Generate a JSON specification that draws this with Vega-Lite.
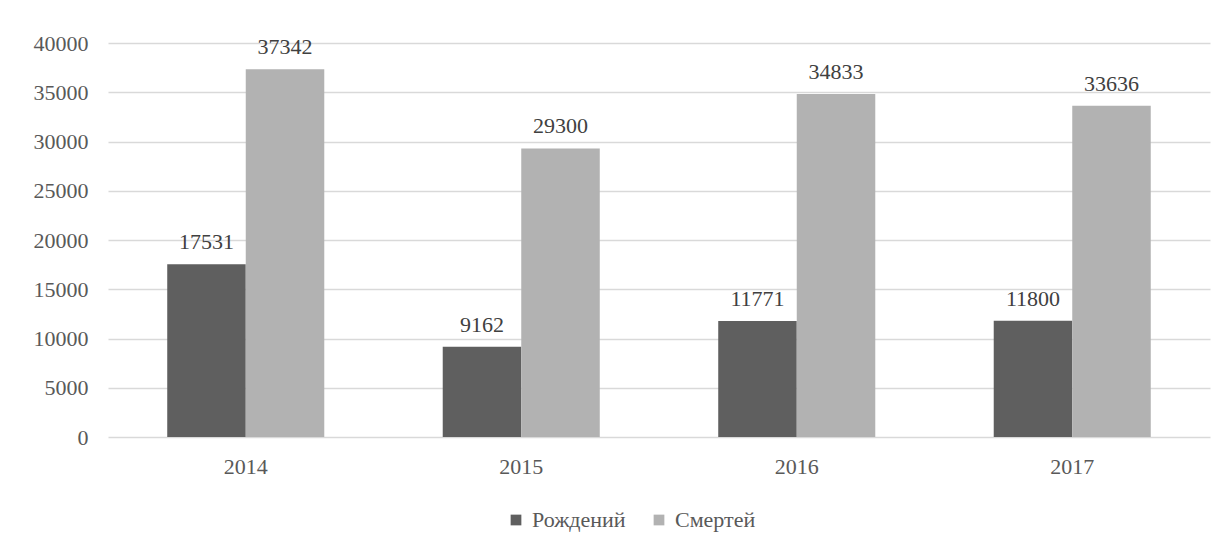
{
  "$schema": "https://vega.github.io/schema/vega-lite/v6.json",
  "width": 1102,
  "height": 394,
  "autosize": {"type": "none"},
  "padding": {"left": 108, "top": 43, "right": 13, "bottom": 109},
  "background": "white",
  "config": {
    "font": "Liberation Serif, Times New Roman, serif",
    "view": {"stroke": null},
    "axis": {"labelFont": "Liberation Serif, Times New Roman, serif", "labelColor": "#595959", "labelFontSize": 22},
    "legend": {"labelFont": "Liberation Serif, Times New Roman, serif"},
    "text": {"font": "Liberation Serif, Times New Roman, serif"}
  },
  "data": {
    "values": [
      {"year": "2014", "series": "Рождений", "value": 17531},
      {"year": "2014", "series": "Смертей", "value": 37342},
      {"year": "2015", "series": "Рождений", "value": 9162},
      {"year": "2015", "series": "Смертей", "value": 29300},
      {"year": "2016", "series": "Рождений", "value": 11771},
      {"year": "2016", "series": "Смертей", "value": 34833},
      {"year": "2017", "series": "Рождений", "value": 11800},
      {"year": "2017", "series": "Смертей", "value": 33636}
    ]
  },
  "encoding": {
    "x": {
      "field": "year", "type": "nominal",
      "scale": {"paddingInner": 0.43, "paddingOuter": 0.215},
      "axis": {"title": null, "labelAngle": 0, "domain": false, "ticks": false, "labelPadding": 19}
    },
    "xOffset": {"field": "series", "type": "nominal", "sort": ["Рождений", "Смертей"]},
    "y": {
      "field": "value", "type": "quantitative",
      "scale": {"domain": [0, 40000], "nice": false},
      "axis": {"title": null, "values": [0, 5000, 10000, 15000, 20000, 25000, 30000, 35000, 40000], "format": "d", "labelOverlap": false, "domain": false, "ticks": false, "labelPadding": 20, "gridColor": "#d9d9d9", "gridWidth": 1.5}
    }
  },
  "layer": [
    {
      "mark": {"type": "bar"},
      "encoding": {
        "color": {
          "field": "series", "type": "nominal",
          "sort": ["Рождений", "Смертей"],
          "scale": {"domain": ["Рождений", "Смертей"], "range": ["#5f5f5f", "#b2b2b2"]},
          "legend": {
            "title": null, "orient": "none", "legendX": 397, "legendY": 466, "direction": "horizontal",
            "symbolType": "square", "symbolSize": 115, "symbolStrokeWidth": 0,
            "labelFontSize": 22, "labelColor": "#595959",
            "columnPadding": 22, "labelOffset": 5
          }
        }
      }
    },
    {
      "mark": {"type": "text", "baseline": "bottom", "dy": -10, "fontSize": 22, "color": "#404040"},
      "encoding": {"text": {"field": "value", "type": "quantitative", "format": "d"}}
    }
  ]
}
